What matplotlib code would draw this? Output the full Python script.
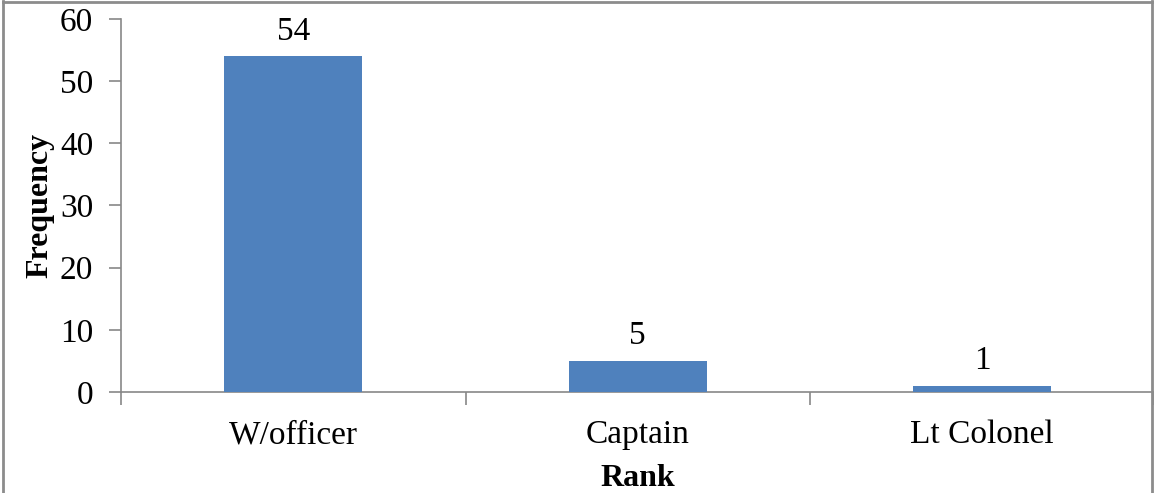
import matplotlib
matplotlib.use("Agg")
import matplotlib.pyplot as plt
from matplotlib.lines import Line2D

categories = ["W/officer", "Captain", "Lt Colonel"]
values = [54, 5, 1]
yticks = [0, 10, 20, 30, 40, 50, 60]

plt.rcParams['font.family'] = ['Liberation Serif', 'DejaVu Serif']

fig = plt.figure(figsize=(11.54, 4.93), dpi=100)
ax = fig.add_axes([0.1049, 0.2049, 0.8955, 0.7566])

x = list(range(len(categories)))
ax.bar(x, values, width=0.4, color="#4F81BD", zorder=3)
for xi, v in zip(x, values):
    ax.annotate(str(v), (xi, v), xytext=(0, 7), textcoords="offset points",
                ha="center", va="bottom", fontsize=24)

ax.set_xlim(-0.5, len(categories) - 0.5)
ax.set_ylim(0, 60)
ax.set_yticks(yticks)
ax.set_yticklabels([str(t) for t in yticks], fontsize=24)
ax.set_xticks(x)
ax.set_xticklabels(categories, fontsize=24)
ax.tick_params(axis='x', length=0, pad=20)
ax.set_xticks([i + 0.5 for i in range(-1, len(categories))], minor=True)
ax.tick_params(axis='x', which='minor', length=9, color="#888888", width=1.2, direction='out')
ax.tick_params(axis='y', length=9, color="#888888", width=1.2, direction='out', pad=11)

for s in ['top', 'right']:
    ax.spines[s].set_visible(False)
for s in ['left', 'bottom']:
    ax.spines[s].set_color("#888888")
    ax.spines[s].set_linewidth(1.2)

ax.set_xlabel("Rank", fontsize=23, fontweight='bold', labelpad=10)
ax.set_ylabel("Frequency", fontsize=23, fontweight='bold', labelpad=4)

# outer frame
fc = "#8c8c8c"
fig.add_artist(Line2D([3/1154, 3/1154], [0, 1 - 1/493], transform=fig.transFigure, color=fc, lw=2))
fig.add_artist(Line2D([3/1154, 1152/1154], [1 - 1.5/493, 1 - 1.5/493], transform=fig.transFigure, color=fc, lw=2))
fig.add_artist(Line2D([1152/1154, 1152/1154], [0, 1 - 1/493], transform=fig.transFigure, color=fc, lw=2))

fig.savefig("out.png", dpi=100)
